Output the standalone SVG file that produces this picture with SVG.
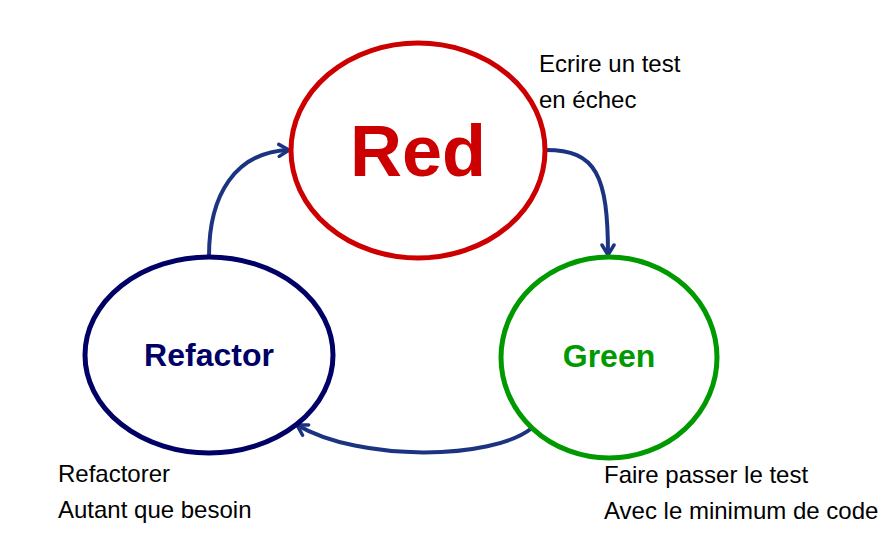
<svg xmlns="http://www.w3.org/2000/svg" width="888" height="535" viewBox="0 0 888 535">
  <style>
    .lbl { font-family: "Liberation Sans", Arial, sans-serif; font-size: 24px; fill: #000; }
    .node-title { font-family: "Liberation Sans", Arial, sans-serif; font-weight: bold; text-anchor: middle; }
    .conn { fill: none; stroke: #1c3381; stroke-width: 4; marker-end: url(#arrow); }
    .ring { fill: none; stroke-width: 5; }
  </style>
  <defs>
    <marker id="arrow" viewBox="0 0 16 16" refX="13" refY="8" markerWidth="16" markerHeight="16" markerUnits="userSpaceOnUse" orient="auto">
      <path d="M3,2 L13,8 L3,14" fill="none" stroke="#1c3381" stroke-width="3.5" stroke-linecap="round" stroke-linejoin="miter"/>
    </marker>
  </defs>
  <rect width="888" height="535" fill="#fff"/>

  <g id="connectors">
    <path class="conn" d="M209,256 C209,195 235,152 289,150"/>
    <path class="conn" d="M546,150 C596,150 608,175 608,255"/>
    <path class="conn" d="M532,428 C492,460 360,462 297,425"/>
  </g>

  <g id="red">
    <ellipse class="ring" cx="418" cy="150.5" rx="127" ry="107.5" stroke="#cc0000"/>
    <text class="node-title" x="418" y="176" font-size="72" fill="#cc0000">Red</text>
  </g>

  <g id="refactor">
    <ellipse class="ring" cx="209" cy="355" rx="124" ry="98" stroke="#000066"/>
    <text class="node-title" x="209" y="366" font-size="32" fill="#000066">Refactor</text>
  </g>

  <g id="green">
    <ellipse class="ring" cx="609" cy="357.5" rx="108" ry="100.5" stroke="#009900"/>
    <text class="node-title" x="609" y="367" font-size="32" fill="#009900">Green</text>
  </g>

  <g id="labels">
    <text class="lbl" x="539" y="72">Ecrire un test</text>
    <text class="lbl" x="539" y="108">en échec</text>
    <text class="lbl" x="58" y="482">Refactorer</text>
    <text class="lbl" x="58" y="518">Autant que besoin</text>
    <text class="lbl" x="604" y="483">Faire passer le test</text>
    <text class="lbl" x="604" y="519">Avec le minimum de code</text>
  </g>
</svg>
